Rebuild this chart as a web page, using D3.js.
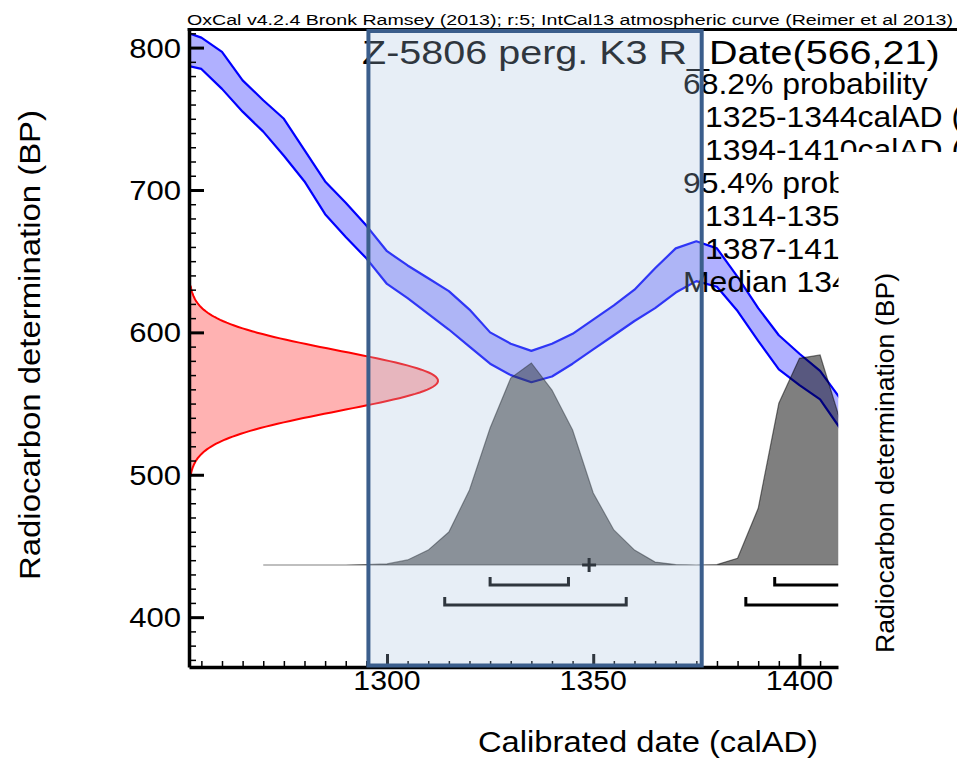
<!DOCTYPE html>
<html>
<head>
<meta charset="utf-8">
<script src="https://cdn.jsdelivr.net/npm/d3@7"></script>
<style>
  body { margin: 0; background: #fff; }
  svg { display: block; }
  text { font-family: "Liberation Sans", Arial, Helvetica, sans-serif; fill: #000; }
</style>
</head>
<body>
<svg id="chart" width="957" height="764"></svg>
<script>
// IntCal13 calibration curve (upper / lower 1-sigma envelope, BP) by calendar year AD
const curveYears = [1252,1255,1260,1265,1270,1275,1280,1285,1290,1295,1300,1305,1310,1315,1320,1325,1330,1335,1340,1345,1350,1355,1360,1365,1370,1375,1380,1385,1390,1395,1400,1405,1410];
const curveUpper = [810,807,797,777,763,750,728,706,691,675,657,647,638,629,616,600,592,587,592,599,609,619,630,645,659,664,659,639,617,598,585,573,553];
const curveLower = [787,785,771,755,741,724,706,683,667,652,634,624,613,602,590,578,570,565,569,578,588,598,608,617,628,636,632,615,594,574,563,553,532];

// Radiocarbon measurement R_Date(566,21)
const dateMean = 566;
const dateSigma = 21;

// Calibrated probability distribution (relative to its maximum)
const calYears = [1270,1275,1280,1285,1290,1295,1300,1305,1310,1315,1320,1325,1330,1335,1340,1345,1350,1355,1360,1365,1370,1375,1380,1385,1390,1395,1400,1405,1410];
const calProb  = [0,0,0,0,0,0.002,0.005,0.024,0.071,0.157,0.357,0.652,0.890,0.962,0.833,0.643,0.343,0.167,0.071,0.014,0.002,0,0.002,0.032,0.270,0.770,0.984,1.0,0.68];

// Highest probability ranges and median
const ranges68 = [[1325,1344],[1394,1410]];
const ranges95 = [[1314,1358],[1387,1418]];
const medianYear = 1349;

// Axis ticks
const xMajorTicks = [1300,1350,1400];
const yMajorTicks = [400,500,600,700,800];

// Texts
const headerText = "OxCal v4.2.4 Bronk Ramsey (2013); r:5; IntCal13 atmospheric curve (Reimer et al 2013)";
const titleText = "Z-5806 perg. K3 R_Date(566,21)";
const summaryLines = [
  "68.2% probability",
  "1325-1344calAD (",
  "1394-1410calAD (",
  "95.4% probability",
  "1314-1358calAD",
  "1387-1418calAD",
  "Median 1349"
];
const xTitle = "Calibrated date (calAD)";
const yTitle = "Radiocarbon determination (BP)";

// Highlighted calendar window
const windowYears = [1295.5, 1376.3];

const W = 957, H = 764;
const svg = d3.select("#chart");

const x = d3.scaleLinear().domain([1252, 1410]).range([189, 840.7]);
const y = d3.scaleLinear().domain([365, 812]).range([667, 30.5]);
const likeX = d3.scaleLinear().domain([0, 1]).range([189, 438]);   // width of the radiocarbon likelihood
const calY = d3.scaleLinear().domain([0, 1]).range([565, 355]);    // height of the calibrated distribution

const clipRight = 838.5;
svg.append("defs").append("clipPath").attr("id", "plotClip")
  .append("rect").attr("x", 189).attr("y", 0).attr("width", clipRight - 189).attr("height", H);

const plot = svg.append("g").attr("clip-path", "url(#plotClip)");

// calibration curve band
const band = curveYears.map((yr, i) => ({ yr, hi: curveUpper[i], lo: curveLower[i] }));
plot.append("path").datum(band)
  .attr("d", d3.area().x(d => x(d.yr)).y0(d => y(d.lo)).y1(d => y(d.hi)))
  .attr("fill", "#0000ff").attr("fill-opacity", 0.31);
["hi", "lo"].forEach(k => {
  plot.append("path").datum(band)
    .attr("d", d3.line().x(d => x(d.yr)).y(d => y(d[k])))
    .attr("fill", "none").attr("stroke", "#0000ff").attr("stroke-width", 2.2)
    .attr("stroke-linejoin", "round");
});

// radiocarbon likelihood on the BP axis
const bpSamples = d3.range(dateMean - 3.2 * dateSigma, dateMean + 3.2 * dateSigma + 0.001, 1);
const like = bpSamples.map(v => ({ v, p: Math.exp(-0.5 * Math.pow((v - dateMean) / dateSigma, 2)) }));
plot.append("path").datum(like)
  .attr("d", d3.area().y(d => y(d.v)).x0(likeX(0)).x1(d => likeX(d.p)))
  .attr("fill", "#ff0000").attr("fill-opacity", 0.3);
plot.append("path").datum(like)
  .attr("d", d3.line().y(d => y(d.v)).x(d => likeX(d.p)))
  .attr("fill", "none").attr("stroke", "#ff0000").attr("stroke-width", 2);

// calibrated distribution
const cal = calYears.map((yr, i) => ({ yr, p: calProb[i] }));
plot.append("path").datum(cal)
  .attr("d", d3.area().x(d => x(d.yr)).y0(calY(0)).y1(d => calY(d.p)))
  .attr("fill", "#000").attr("fill-opacity", 0.5)
  .attr("stroke", "#000").attr("stroke-opacity", 0.5).attr("stroke-width", 1.2);

// range brackets
function bracket(r, yy) {
  return `M${x(r[0])},${yy - 8}V${yy}H${x(r[1])}V${yy - 8}`;
}
ranges68.forEach(r => plot.append("path").attr("d", bracket(r, 585))
  .attr("fill", "none").attr("stroke", "#000").attr("stroke-width", 3));
ranges95.forEach(r => plot.append("path").attr("d", bracket(r, 605))
  .attr("fill", "none").attr("stroke", "#000").attr("stroke-width", 3));

// median marker
const mx = x(medianYear), my = calY(0);
plot.append("path").attr("d", `M${mx - 7},${my}H${mx + 7}M${mx},${my - 7}V${my + 7}`)
  .attr("stroke", "#000").attr("stroke-width", 3);

// axes
const yMinor = d3.axisRight(y).tickValues(d3.range(370, 811, 10)).tickSize(7).tickSizeOuter(0).tickFormat("");
const gyMinor = svg.append("g").attr("transform", "translate(189,0)").call(yMinor);
gyMinor.selectAll(".tick line").attr("stroke", "#000").attr("stroke-width", 1.5);
gyMinor.select(".domain").attr("stroke", "#000").attr("stroke-width", 3.5);
const yMajor = d3.axisRight(y).tickValues(yMajorTicks).tickSize(15).tickSizeOuter(0).tickFormat("");
const gyMajor = svg.append("g").attr("transform", "translate(189,0)").call(yMajor);
gyMajor.selectAll(".tick line").attr("stroke", "#000").attr("stroke-width", 3);
gyMajor.select(".domain").remove();

const xMinor = d3.axisTop(x).tickValues(d3.range(1255, 1406, 5)).tickSize(6).tickSizeOuter(0).tickFormat("");
const gxMinor = svg.append("g").attr("transform", "translate(0,667)").call(xMinor);
gxMinor.selectAll(".tick line").attr("stroke", "#000").attr("stroke-width", 1.5);
gxMinor.select(".domain").attr("stroke", "#000").attr("stroke-width", 3.5);
const xMajor = d3.axisTop(x).tickValues(xMajorTicks).tickSize(13).tickSizeOuter(0).tickFormat("");
const gxMajor = svg.append("g").attr("transform", "translate(0,667)").call(xMajor);
gxMajor.selectAll(".tick line").attr("stroke", "#000").attr("stroke-width", 3);
gxMajor.select(".domain").remove();

// top frame line
svg.append("line").attr("x1", 187.5).attr("x2", W).attr("y1", 29.5).attr("y2", 29.5)
  .attr("stroke", "#000").attr("stroke-width", 3);

// text helper: horizontally stretched glyphs
function label(txt, tx, ty, size, sx, anchor) {
  return svg.append("text")
    .attr("transform", `translate(${tx},${ty}) scale(${sx},1)`)
    .attr("font-size", size)
    .attr("text-anchor", anchor || "start")
    .text(txt);
}

yMajorTicks.forEach(v => label(String(v), 181, y(v) + 10, 28, 1.11, "end"));
xMajorTicks.forEach(v => label(String(v), x(v), 690, 28, 1.08, "middle"));

svg.append("text").attr("x", 478).attr("y", 752).attr("font-size", 29)
  .attr("textLength", 340).attr("lengthAdjust", "spacingAndGlyphs").text(xTitle);
svg.append("text").attr("transform", "translate(40,345) rotate(-90)").attr("text-anchor", "middle")
  .attr("font-size", 30).attr("textLength", 470).attr("lengthAdjust", "spacingAndGlyphs").text(yTitle);

svg.append("text").attr("x", 187).attr("y", 25).attr("font-size", 15.5)
  .attr("textLength", 766).attr("lengthAdjust", "spacingAndGlyphs").text(headerText);

label(titleText, 362, 64, 33.5, 1.18, "start");

summaryLines.forEach((s, i) => {
  const indented = /calAD/.test(s);
  label(s, indented ? 705 : 683, 94 + i * 33, 29, 1.1, "start");
});

// highlighted calendar window
svg.append("rect")
  .attr("x", x(windowYears[0])).attr("y", 31)
  .attr("width", x(windowYears[1]) - x(windowYears[0])).attr("height", 634.5)
  .attr("fill", "rgb(170,193,221)").attr("fill-opacity", 0.28)
  .attr("stroke", "#3b5e8c").attr("stroke-width", 4);

// right-hand panel with the secondary axis title
svg.append("rect").attr("x", clipRight).attr("y", 152).attr("width", W - clipRight).attr("height", H - 152)
  .attr("fill", "#fff");
svg.append("text").attr("transform", "translate(894,463) rotate(-90)").attr("text-anchor", "middle")
  .attr("font-size", 25).attr("textLength", 380).attr("lengthAdjust", "spacingAndGlyphs").text(yTitle);
</script>
</body>
</html>
